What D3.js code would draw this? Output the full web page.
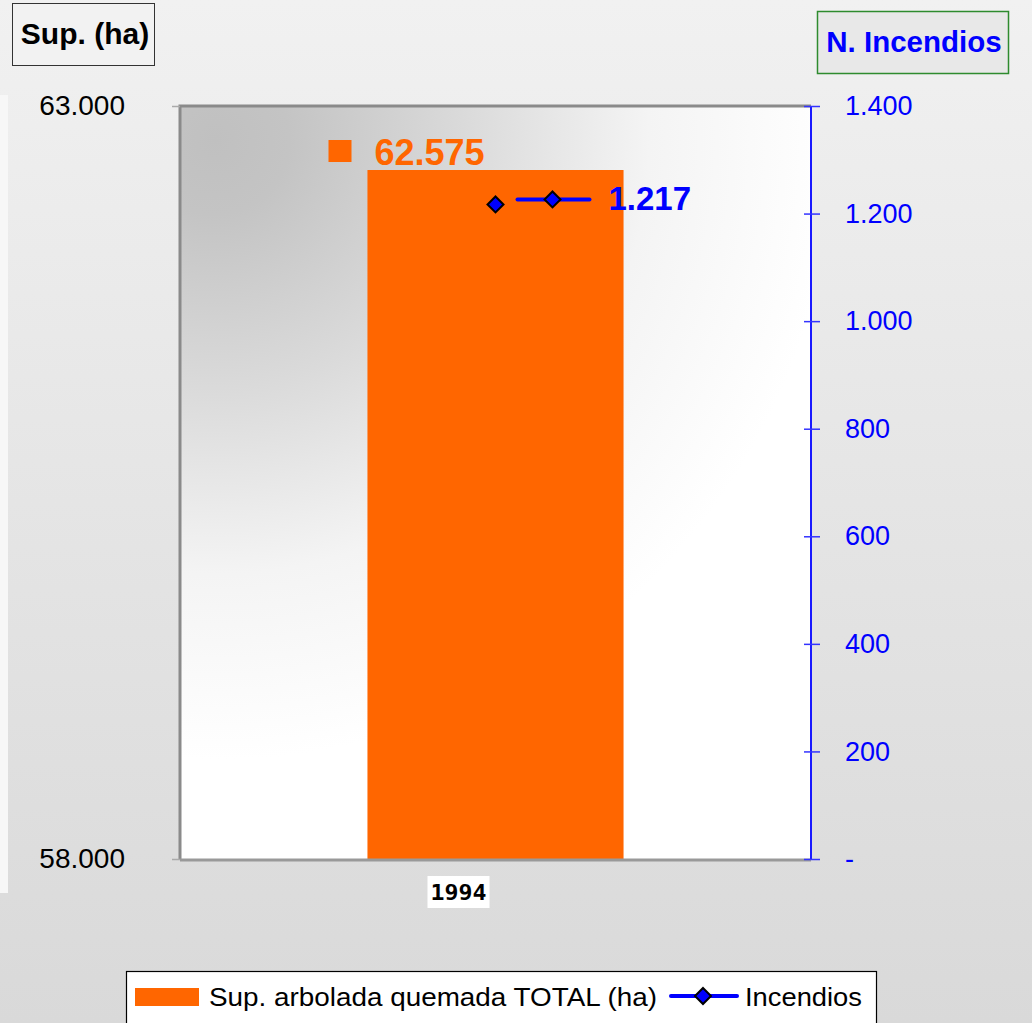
<!DOCTYPE html>
<html>
<head>
<meta charset="utf-8">
<script src="https://cdn.jsdelivr.net/npm/d3@7"></script>
<style>
  html, body { margin: 0; padding: 0; background: #e4e4e4; }
  svg { display: block; font-family: "Liberation Sans", Arial, sans-serif; }
</style>
</head>
<body>
<svg id="chart" width="1032" height="1023"></svg>
<script>
// ---- data ----
const categories = ["1994"];
const supArbolada = [62575];      // Sup. arbolada quemada TOTAL (ha)
const incendios = [1217];         // Incendios
const leftTicks = [58000, 63000];
const rightTicks = [0, 200, 400, 600, 800, 1000, 1200, 1400];
const seriesNames = ["Sup. arbolada quemada TOTAL (ha)", "Incendios"];
const leftTitle = "Sup. (ha)";
const rightTitle = "N. Incendios";

const fmt = v => v === 0 ? "-" : d3.format(",")(v).replace(/,/g, ".");

const W = 1032, H = 1023;
const plot = { left: 180, right: 811, top: 106, bottom: 859 };
const svg = d3.select("#chart");
const defs = svg.append("defs");

// backgrounds
const bg = defs.append("linearGradient").attr("id", "bg").attr("x1", 0).attr("y1", 0).attr("x2", 0).attr("y2", 1);
bg.append("stop").attr("offset", 0).attr("stop-color", "#f1f1f1");
bg.append("stop").attr("offset", 0.45).attr("stop-color", "#e6e6e6");
bg.append("stop").attr("offset", 1).attr("stop-color", "#d9d9d9");
svg.append("rect").attr("width", W).attr("height", H).attr("fill", "url(#bg)");
svg.append("rect").attr("x", 0).attr("y", 95).attr("width", 8).attr("height", 798).attr("fill", "#f7f7f7");

const pg = defs.append("radialGradient").attr("id", "pg").attr("gradientUnits", "userSpaceOnUse")
  .attr("cx", 215).attr("cy", 140).attr("r", 620);
pg.append("stop").attr("offset", 0).attr("stop-color", "#c0c0c0");
pg.append("stop").attr("offset", 0.12).attr("stop-color", "#c4c4c4");
pg.append("stop").attr("offset", 0.4).attr("stop-color", "#dadada");
pg.append("stop").attr("offset", 0.7).attr("stop-color", "#f4f4f4");
pg.append("stop").attr("offset", 1).attr("stop-color", "#ffffff");
svg.append("rect").attr("x", plot.left).attr("y", plot.top)
  .attr("width", plot.right - plot.left).attr("height", plot.bottom - plot.top)
  .attr("fill", "url(#pg)");

// scales
const x = d3.scaleBand().domain(categories).range([plot.left, plot.right]).paddingInner(0).paddingOuter(0.732);
const yL = d3.scaleLinear().domain([58000, 63000]).range([plot.bottom, plot.top]);
const yR = d3.scaleLinear().domain([0, 1400]).range([plot.bottom, plot.top]);

// bars
svg.append("g").selectAll("rect").data(categories).join("rect")
  .attr("x", d => x(d)).attr("width", x.bandwidth())
  .attr("y", (d, i) => yL(supArbolada[i]))
  .attr("height", (d, i) => plot.bottom - yL(supArbolada[i]))
  .attr("fill", "#ff6600");

// plot frame (top/left/bottom gray)
svg.append("path")
  .attr("d", `M${plot.left},${plot.bottom} L${plot.left},${plot.top} L${plot.right},${plot.top}`)
  .attr("fill", "none").attr("stroke", "#8a8a8a").attr("stroke-width", 3);
svg.append("line").attr("x1", plot.left).attr("x2", plot.right).attr("y1", plot.bottom + 1).attr("y2", plot.bottom + 1)
  .attr("stroke", "#999").attr("stroke-width", 3);

// left axis
const axL = svg.append("g").attr("transform", `translate(${plot.left},0)`)
  .call(d3.axisLeft(yL).tickValues(leftTicks).tickFormat(fmt).tickSize(8).tickPadding(47));
axL.select(".domain").remove();
axL.selectAll(".tick line").attr("stroke", "#aaa").attr("stroke-width", 1.5);
axL.selectAll(".tick text").attr("fill", "#000").attr("font-size", 28)
  .attr("font-family", "Liberation Sans, Arial, sans-serif");

// right axis
const axR = svg.append("g").attr("transform", `translate(${plot.right},0)`)
  .call(d3.axisRight(yR).tickValues(rightTicks).tickFormat(fmt).tickSize(9).tickPadding(25));
axR.select(".domain").attr("stroke", "#1a1aff").attr("stroke-width", 2)
  .attr("d", `M0,${plot.top}V${plot.bottom}`);
axR.selectAll(".tick line").attr("x1", -7).attr("x2", 9).attr("stroke", "#3333ff").attr("stroke-width", 1.5);
axR.selectAll(".tick text").attr("fill", "#0000ff").attr("font-size", 27)
  .attr("font-family", "Liberation Sans, Arial, sans-serif");

// line series
const lineGen = d3.line().x((d, i) => x(categories[i]) + x.bandwidth() / 2).y(d => yR(d));
svg.append("path").datum(incendios).attr("d", lineGen).attr("fill", "none").attr("stroke", "#0000ff").attr("stroke-width", 4);
const diamond = "M0,-8L8,0L0,8L-8,0Z";
svg.append("g").selectAll("path").data(incendios).join("path")
  .attr("d", diamond)
  .attr("transform", (d, i) => `translate(${x(categories[i]) + x.bandwidth() / 2},${yR(d)})`)
  .attr("fill", "#0000ff").attr("stroke", "#000").attr("stroke-width", 2);

// data labels
categories.forEach((c, i) => {
  const bx = x(c) + x.bandwidth() / 2;
  const by = yL(supArbolada[i]);
  svg.append("rect").attr("x", bx - 167).attr("y", by - 30).attr("width", 23).attr("height", 22)
    .attr("fill", "#ff6600");
  svg.append("text").attr("x", bx - 121).attr("y", by - 5)
    .attr("font-size", 36).attr("font-weight", "bold").attr("fill", "#ff6600")
    .text(fmt(supArbolada[i]));

  const ly = yR(incendios[i]);
  svg.append("line").attr("x1", bx + 22).attr("x2", bx + 94).attr("y1", ly - 5).attr("y2", ly - 5)
    .attr("stroke", "#0000ff").attr("stroke-width", 4).attr("stroke-linecap", "round");
  svg.append("path").attr("d", diamond).attr("transform", `translate(${bx + 57},${ly - 5})`)
    .attr("fill", "#0000ff").attr("stroke", "#000").attr("stroke-width", 2);
  svg.append("text").attr("x", bx + 113).attr("y", ly + 6)
    .attr("font-size", 33).attr("font-weight", "bold").attr("fill", "#0000ff")
    .text(fmt(incendios[i]));

  // category label
  svg.append("rect").attr("x", bx - 68).attr("y", 876).attr("width", 62).attr("height", 32).attr("fill", "#fff");
  svg.append("text").attr("x", bx - 37).attr("y", 900).attr("text-anchor", "middle")
    .attr("font-size", 21).attr("font-weight", "bold").attr("fill", "#000")
    .attr("font-family", "DejaVu Sans Mono, monospace").attr("textLength", 56).attr("lengthAdjust", "spacingAndGlyphs")
    .text(c);
});

// axis titles
svg.append("rect").attr("x", 12.5).attr("y", 3.5).attr("width", 142).attr("height", 62)
  .attr("fill", "#f2f2f2").attr("stroke", "#333").attr("stroke-width", 1);
svg.append("text").attr("x", 85).attr("y", 44).attr("text-anchor", "middle")
  .attr("font-size", 30).attr("font-weight", "bold").attr("fill", "#000").text(leftTitle);
svg.append("rect").attr("x", 817.5).attr("y", 11.5).attr("width", 191).attr("height", 62)
  .attr("fill", "#e8e8e8").attr("stroke", "#2e8b2e").attr("stroke-width", 1.5);
svg.append("text").attr("x", 914).attr("y", 52).attr("text-anchor", "middle")
  .attr("font-size", 29.5).attr("font-weight", "bold").attr("fill", "#0000ff").text(rightTitle);

// legend
const lg = svg.append("g");
lg.append("rect").attr("x", 126.5).attr("y", 971.5).attr("width", 750).attr("height", 70)
  .attr("fill", "#fff").attr("stroke", "#000").attr("stroke-width", 1.2);
lg.append("rect").attr("x", 135).attr("y", 988).attr("width", 64).attr("height", 18).attr("fill", "#ff6600");
lg.append("text").attr("x", 209).attr("y", 1006).attr("font-size", 26).attr("fill", "#000")
  .attr("textLength", 448).attr("lengthAdjust", "spacingAndGlyphs").text(seriesNames[0]);
lg.append("line").attr("x1", 671).attr("x2", 737).attr("y1", 996).attr("y2", 996)
  .attr("stroke", "#0000ff").attr("stroke-width", 4).attr("stroke-linecap", "round");
lg.append("path").attr("d", diamond).attr("transform", "translate(703,996)")
  .attr("fill", "#0000ff").attr("stroke", "#000").attr("stroke-width", 2);
lg.append("text").attr("x", 745).attr("y", 1006).attr("font-size", 26).attr("fill", "#000")
  .attr("textLength", 117).attr("lengthAdjust", "spacingAndGlyphs").text(seriesNames[1]);
</script>
</body>
</html>
